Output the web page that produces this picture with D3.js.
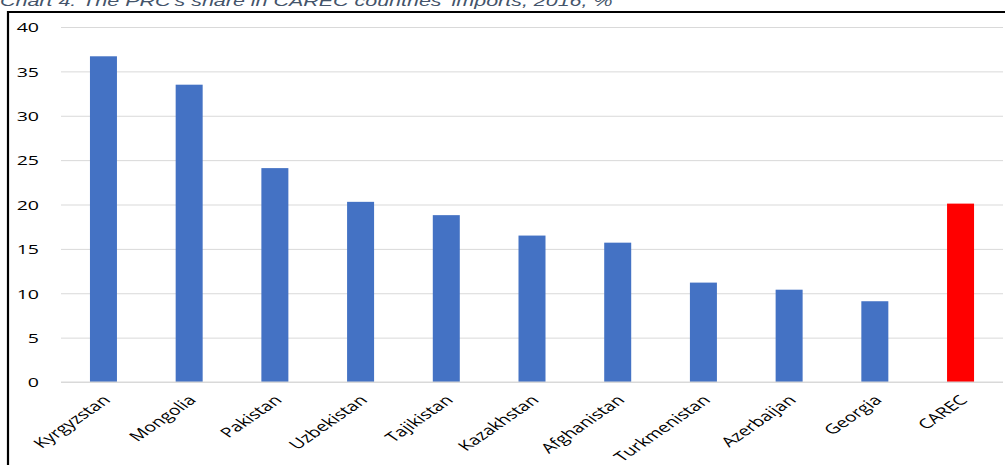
<!DOCTYPE html>
<html><head><meta charset="utf-8">
<script src="https://cdn.jsdelivr.net/npm/d3@7"></script>
<style>body{margin:0;background:#fff;}svg{display:block;}</style>
</head><body>
<svg id="c" width="1005" height="465"></svg>
<script>
const categories = ["Kyrgyzstan","Mongolia","Pakistan","Uzbekistan","Tajikistan","Kazakhstan","Afghanistan","Turkmenistan","Azerbaijan","Georgia","CAREC"];
const values = [36.7, 33.5, 24.1, 20.3, 18.8, 16.5, 15.7, 11.2, 10.4, 9.1, 20.1];
const highlight = ["CAREC"];
const yTicks = [0,5,10,15,20,25,30,35,40];
const title = "Chart 4. The PRC's share in CAREC countries' imports, 2016, %";

const SX = 1.45; // horizontal stretch of the reference image text
const svg = d3.select("#c");
const x = d3.scaleBand().domain(categories).range([60.6, 1003.4]).paddingInner(0.685).paddingOuter(0.3425);
const y = d3.scaleLinear().domain([0,40]).range([382, 27]);

svg.append("text").attr("transform","translate(0,6) scale("+SX+",1)").attr("font-family","Liberation Sans, Arial, sans-serif")
  .attr("font-style","italic").attr("font-size",14.8).attr("fill","#44546A").text(title);

// frame
svg.append("path").attr("d","M8,470 L8,12 L1010,12").attr("fill","none").attr("stroke","#000").attr("stroke-width",2.2);

// gridlines
const yAxis = d3.axisLeft(y).tickValues(yTicks).tickSize(-(1003-61)).tickPadding(0);
const g = svg.append("g").attr("transform","translate(61,0)").call(yAxis);
g.select(".domain").remove();
g.selectAll(".tick line").attr("stroke","#D9D9D9").attr("stroke-width",1);
g.selectAll(".tick text").attr("font-family","Open Sans, sans-serif").attr("font-size",13.5).attr("fill","#000")
  .attr("x",0).attr("dy","0.36em").attr("text-anchor","end")
  .attr("transform","translate(-22,0) scale("+SX+",1)");

svg.append("g").selectAll("rect").data(categories).join("rect")
  .attr("x", d=>x(d)).attr("width", x.bandwidth())
  .attr("y", (d,i)=>y(values[i])).attr("height",(d,i)=>y(0)-y(values[i]))
  .attr("fill", d=> highlight.includes(d) ? "#FF0000" : "#4472C4");

svg.append("line").attr("x1",61).attr("x2",1003).attr("y1",y(0)).attr("y2",y(0)).attr("stroke","#D9D9D9");

const xAxis = d3.axisBottom(x).tickSize(0).tickPadding(0);
const gx = svg.append("g").attr("transform","translate(0,"+y(0)+")").call(xAxis);
gx.select(".domain").remove();
gx.selectAll(".tick text").attr("font-family","Open Sans, sans-serif").attr("font-size",13.5).attr("fill","#000")
  .attr("text-anchor","end").attr("y",0).attr("dy",0)
  .attr("transform","translate(8,19) scale("+SX+",1) rotate(-45)");
</script>
</body></html>
